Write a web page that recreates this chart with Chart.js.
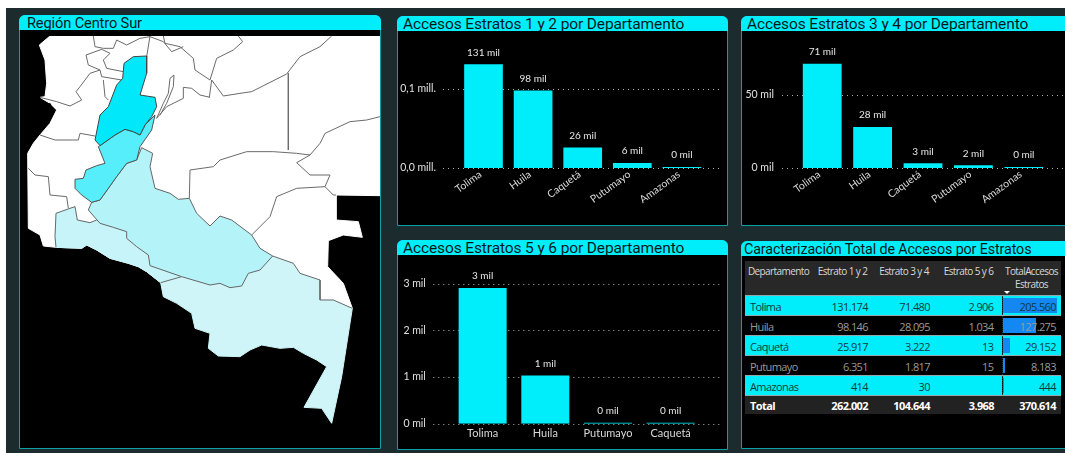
<!DOCTYPE html>
<html lang="es">
<head>
<meta charset="UTF-8">
<title>Región Centro Sur</title>
<script src="https://cdn.jsdelivr.net/npm/chart.js"></script>
<style>
  html, body { margin: 0; padding: 0; background: #fff; }
  #fondo { position: absolute; left: 6px; top: 8px; width: 1059px; height: 445px; background: #1c2b2d; overflow: hidden; }
  #lienzo { position: absolute; left: 0; top: 0; width: 1065px; height: 453px; overflow: hidden; filter: blur(.35px); }
  .panel { position: absolute; background: #000; border: 1.5px solid #0b9fa8; border-radius: 6px 6px 0 0; box-sizing: border-box; }
  .titulo { position: absolute; left: -1px; right: -1px; top: -1px; height: 15px; background: #00eefb; border-radius: 6px 6px 0 0;
    color: #04181a; font: 15.5px Roboto, sans-serif; letter-spacing: -.12px; line-height: 17px; overflow: hidden; white-space: nowrap; padding-left: 6px; }
  canvas { position: absolute; display: block; }
  table { position: absolute; left: 745px; top: 261px; border-collapse: collapse; table-layout: fixed; width: 316px; font: 11px "Open Sans", sans-serif; letter-spacing: -.6px; }
  th { background: #282828; color: #d8d8d8; font-weight: 400; font-size: 10px; height: 30px; vertical-align: top; padding: 4px 0 0; text-align: center; line-height: 13px; position: relative; }
  td { height: 20px; padding: 1px 5px 0; text-align: right; color: #9a9a9a; position: relative; white-space: nowrap; box-sizing: border-box; }
  td:first-child { text-align: left; }
  td:nth-child(4) { padding-right: 8px; }
  tbody tr td:last-child { border-left: 1px dotted #0b3a40; }
  tr.par td { background: #00eefb; color: #0b3a40; border-top: 1px solid #8fa9ad; border-bottom: 1px solid #8fa9ad; }
  tr.total td { background: #222; color: #fff; font-weight: 700; height: 18px; border-left: 0 !important; }
  .barra { position: absolute; left: 0; top: 2px; bottom: 2px; background: #1488f2; }
  .valor { position: relative; }
  .flecha { position: absolute; left: 2px; bottom: 1px; width: 0; height: 0; border-left: 3px solid transparent; border-right: 3px solid transparent; border-top: 3px solid #fff; }
</style>
</head>
<body>
<div id="lienzo">
  <div id="fondo"></div>
  <div class="panel" style="left:19px;top:15px;width:362px;height:434px"><div class="titulo" style="padding-left:8px;font-size:14.6px">Región Centro Sur</div></div>
  <div class="panel" style="left:397px;top:16px;width:331px;height:210px"><div class="titulo">Accesos Estratos 1 y 2 por Departamento</div></div>
  <div class="panel" style="left:741px;top:16px;width:340px;height:210px"><div class="titulo" style="padding-left:6px">Accesos Estratos 3 y 4 por Departamento</div></div>
  <div class="panel" style="left:397px;top:240px;width:331px;height:210px"><div class="titulo">Accesos Estratos 5 y 6 por Departamento</div></div>
  <div class="panel" style="left:741px;top:241px;width:340px;height:208px"><div class="titulo" style="padding-left:3px;font-size:14.3px">Caracterización Total de Accesos por Estratos</div></div>

  <canvas id="mapa" width="360" height="413" style="left:20px;top:36px"></canvas>
  <canvas id="chart12" width="328" height="193" style="left:398px;top:31px"></canvas>
  <canvas id="chart34" width="323" height="193" style="left:742px;top:31px"></canvas>
  <canvas id="chart56" width="328" height="193" style="left:398px;top:255px"></canvas>
  <table id="tabla"></table>
</div>

<script>
// Datos
const deptos = ['Tolima', 'Huila', 'Caquetá', 'Putumayo', 'Amazonas'];
const estrato12 = [131174, 98146, 25917, 6351, 414];
const estrato34 = [71480, 28095, 3222, 1817, 30];
const deptos56 = ['Tolima', 'Huila', 'Putumayo', 'Caquetá'];
const valores56 = [2906, 1034, 15, 13];
const ticks12 = [0, 100000];
const etiquetas12 = ['0,0 mill.', '0,1 mill.'];
const ticks34 = [0, 50000];
const etiquetas34 = ['0 mil', '50 mil'];
const ticks56 = [0, 1000, 2000, 3000];
const etiquetas56 = ['0 mil', '1 mil', '2 mil', '3 mil'];

// Tabla
const columnas = ['Departamento', 'Estrato 1 y 2', 'Estrato 3 y 4', 'Estrato 5 y 6', 'TotalAccesos Estratos'];
const tabla56 = [2906, 1034, 13, 15, null];
const totales = [205560, 127275, 29152, 8183, 444];
const filaTotal = ['Total', '262.002', '104.644', '3.968', '370.614'];

// Contornos del mapa, en unidades propias del mapa
const tierra = [[150,108],[1140,108],[1140,587],[1008,585],[1008,660],[1075,665],[1087,712],[1030,705],[985,722],[983,800],[1030,850],[1057,925],[960,1000],[600,880],[482,848],[440,815],[415,800],[385,790],[330,775],[290,750],[260,735],[245,745],[168,742],[130,738],[120,705],[85,685],[83,460],[100,430],[120,405],[150,370],[170,330],[150,310],[120,292],[135,290],[140,250],[135,180],[118,135]];
const isla = [[140,310],[152,312],[150,325],[140,322]];
const tolima = [[400,170],[440,168],[440,220],[420,285],[465,292],[470,320],[455,350],[435,375],[420,405],[400,395],[375,388],[345,405],[300,437],[285,420],[300,345],[325,320],[350,255],[368,235],[372,190]];
const huila = [[300,437],[345,405],[375,388],[400,395],[420,405],[435,375],[465,345],[455,390],[420,440],[410,480],[380,490],[350,530],[300,600],[275,607],[245,585],[225,565],[225,538],[250,535],[258,510],[290,497],[315,490],[295,440]];
const caqueta = [[425,443],[458,460],[450,500],[465,565],[510,580],[535,598],[568,595],[590,640],[630,678],[660,648],[695,660],[755,705],[780,745],[818,768],[780,810],[745,820],[725,858],[690,863],[660,850],[630,855],[545,830],[450,797],[445,765],[410,740],[380,715],[380,695],[340,682],[300,670],[265,630],[275,607],[300,600],[350,530],[380,490],[410,480]];
const putumayo = [[168,640],[210,625],[225,620],[232,660],[270,668],[290,660],[340,682],[380,695],[380,715],[410,740],[445,765],[450,797],[545,830],[482,848],[440,815],[415,800],[385,790],[330,775],[290,750],[260,735],[245,745],[168,742],[165,710]];
const amazonas = [[545,830],[630,855],[660,850],[690,863],[725,858],[745,820],[780,810],[818,768],[880,790],[900,820],[960,840],[960,900],[1000,900],[1057,925],[1025,1130],[995,1270],[965,1225],[912,1222],[980,1100],[950,1080],[910,1060],[880,1042],[840,1045],[785,1035],[750,1050],[720,1070],[655,1068],[625,1045],[630,1000],[585,985],[575,940],[530,910],[490,890],[482,848]];
const limiteAmazonas = [[818,768],[880,790],[900,820],[960,840],[960,900],[1000,900],[1057,925]];
const limitePutumayo = [[168,742],[165,710],[168,640],[210,625],[225,620],[232,660],[270,668],[290,660]];
const limiteSur = [[482,848],[545,830]];
const limites = [
  [[280,108],[285,140],[310,145],[340,145],[350,120],[380,135],[420,115],[450,110]],
  [[450,108],[440,170]],
  [[305,148],[258,165],[265,195],[300,210],[305,230],[365,240]],
  [[305,148],[330,160],[310,180],[320,205],[370,215]],
  [[300,210],[270,220],[240,260],[228,275],[245,300],[210,318],[170,305],[120,292]],
  [[310,240],[315,290],[325,300]],
  [[490,108],[495,130],[540,140],[580,175],[585,210],[630,240],[650,175],[700,150],[728,125],[715,108]],
  [[450,110],[490,125],[515,155],[550,140]],
  [[635,240],[628,292]],
  [[635,240],[670,288],[720,280],[755,275],[860,222],[900,170],[960,140],[995,108]],
  [[865,220],[865,450]],
  [[470,355],[490,310],[505,280],[510,235],[522,225],[520,260],[500,310],[480,345]],
  [[470,355],[500,320],[550,295],[550,262],[575,265],[600,285],[630,292]],
  [[120,405],[165,420],[235,420],[240,400],[285,408]],
  [[85,505],[105,525],[145,530],[150,585],[200,590],[205,625]],
  [[568,595],[570,510],[640,500],[660,480],[740,455],[820,455],[890,460],[930,465],[960,430],[975,400],[1050,365],[1100,360],[1140,350]],
  [[890,488],[930,465]],
  [[890,488],[930,525],[990,525],[975,560],[890,565],[830,590],[810,650],[755,705]],
  [[975,560],[1000,585],[1008,585]]
];

const cian = '#00eefb';
const fuente = 'Lato, sans-serif';

function puntos(p) {
  return p.map(c => ({ x: c[0], y: c[1] }));
}

function zona(p, color, borde, orden) {
  return { data: puntos(p.concat([p[0]])), showLine: true, fill: 'shape', backgroundColor: color, borderColor: borde, borderWidth: 1, pointRadius: 0, tension: 0, order: orden };
}

function linea(p, orden) {
  return { data: puntos(p), showLine: true, fill: false, borderColor: '#6b6b6b', borderWidth: 1, pointRadius: 0, order: orden };
}

new Chart(document.getElementById('mapa'), {
  type: 'scatter',
  data: {
    datasets: [
      zona(tierra, '#fff', '#fff', 20),
      zona(isla, '#000', '#000', 15)
    ].concat(limites.map(l => linea(l, 10))).concat([
      zona(amazonas, '#cff5f8', '#cff5f8', 5),
      zona(putumayo, '#c6f4f8', '#c6f4f8', 4),
      linea(limiteAmazonas, 3.5),
      linea(limitePutumayo, 3.5),
      linea(limiteSur, 3.5),
      zona(caqueta, '#b4f3f8', '#666', 3),
      zona(huila, '#55eefa', '#555', 2),
      zona(tolima, '#00e8fa', '#444', 1)
    ])
  },
  options: {
    responsive: false,
    animation: false,
    plugins: { legend: { display: false }, tooltip: { enabled: false } },
    scales: {
      x: { display: false, min: 60, max: 1140 },
      y: { display: false, min: 108, max: 1347, reverse: true }
    }
  }
});

// Lineas punteadas y etiquetas de datos, se salen del area de barras como en el original
const extrasBarras = {
  id: 'extrasBarras',
  beforeDatasetsDraw(chart, args, o) {
    const ctx = chart.ctx, y = chart.scales.y;
    ctx.save();
    ctx.strokeStyle = '#b0b0b0';
    ctx.lineWidth = 1;
    ctx.setLineDash([1, 4]);
    o.ticks.forEach(v => {
      const py = Math.round(y.getPixelForValue(v)) + 0.5;
      ctx.beginPath();
      ctx.moveTo(chart.chartArea.left - o.izq, py);
      ctx.lineTo(chart.chartArea.right + o.der, py);
      ctx.stroke();
    });
    ctx.restore();
  },
  afterDatasetsDraw(chart) {
    const ctx = chart.ctx;
    ctx.save();
    ctx.fillStyle = '#e6e6e6';
    ctx.font = '10px ' + fuente;
    ctx.textAlign = 'center';
    ctx.textBaseline = 'middle';
    chart.getDatasetMeta(0).data.forEach((bar, i) => {
      const v = chart.data.datasets[0].data[i];
      ctx.fillText(Math.round(v / 1000) + ' mil', bar.x, bar.y - 12);
    });
    ctx.restore();
  }
};

function barras(id, etiquetas, valores, ticks, textos, g) {
  new Chart(document.getElementById(id), {
    type: 'bar',
    data: { labels: etiquetas, datasets: [{ data: valores, backgroundColor: cian, barPercentage: g.barra, categoryPercentage: 1, minBarLength: 1 }] },
    options: {
      responsive: false,
      animation: false,
      layout: { padding: { top: g.arriba, right: g.derecha, left: 0, bottom: 0 } },
      plugins: { legend: { display: false }, tooltip: { enabled: false }, extrasBarras: { ticks: ticks, izq: g.izq, der: g.der } },
      scales: {
        x: {
          grid: { display: false, drawTicks: false },
          border: { display: false },
          afterFit: s => { s.height = g.abajo; },
          ticks: { color: '#d8d8d8', font: { family: fuente, size: g.tamX }, padding: g.padX, minRotation: g.giro, maxRotation: g.giro, labelOffset: g.despl, autoSkip: false }
        },
        y: {
          min: 0,
          max: g.max,
          grid: { display: false, drawTicks: false },
          border: { display: false },
          // el padding de los ticks no debe reservar espacio arriba
          afterFit: s => { s.width = g.ancho; s.paddingTop = 0; s.paddingBottom = 0; },
          afterBuildTicks: s => { s.ticks = ticks.map(v => ({ value: v })); },
          ticks: { color: '#e0e0e0', font: { family: fuente, size: 10.5 }, padding: g.padY, callback: v => textos[ticks.indexOf(v)] }
        }
      }
    },
    plugins: [extrasBarras]
  });
}

barras('chart12', deptos, estrato12, ticks12, etiquetas12, { barra: .78, arriba: 10.6, derecha: 19.3, abajo: 56, ancho: 60.7, max: 160000, izq: 15.7, der: 15.3, padY: 22.7, padX: 0, giro: 36, despl: -3, tamX: 10.5 });
barras('chart34', deptos, estrato34, ticks34, etiquetas34, { barra: .77, arriba: 10, derecha: 16, abajo: 56, ancho: 55, max: 87000, izq: 15, der: 30, padY: 23, padX: 0, giro: 36, despl: -3, tamX: 10.5 });
barras('chart56', deptos56, valores56, ticks56, etiquetas56, { barra: .766, arriba: 19.4, derecha: 24, abajo: 24.3, ancho: 53.3, max: 3200, izq: 18, der: 20.3, padY: 25.5, padX: 3, giro: 0, despl: 0, tamX: 11 });

// Tabla con barras de datos
const fmt = n => n === null ? '' : String(n).replace(/\B(?=(\d{3})+(?!\d))/g, '.');
const anchos = [67, 61, 62, 67, 59];
let html = '<colgroup>' + anchos.map(a => '<col style="width:' + a + 'px">').join('') + '</colgroup><tr>';
columnas.forEach((c, i) => {
  html += '<th>' + c + (i === 4 ? '<span class="flecha"></span>' : '') + '</th>';
});
html += '</tr>';
const maxTotal = Math.max(...totales);
deptos.forEach((d, i) => {
  const ancho = totales[i] / maxTotal * 54;
  html += '<tr class="' + (i % 2 === 0 ? 'par' : '') + '"><td>' + d + '</td><td>' + fmt(estrato12[i]) + '</td><td>' + fmt(estrato34[i]) + '</td><td>' + fmt(tabla56[i]) + '</td>' +
    '<td><div class="barra" style="width:' + ancho + 'px"></div><span class="valor">' + fmt(totales[i]) + '</span></td></tr>';
});
html += '<tr class="total">' + filaTotal.map(t => '<td>' + t + '</td>').join('') + '</tr>';
document.getElementById('tabla').innerHTML = html;
</script>
</body>
</html>
